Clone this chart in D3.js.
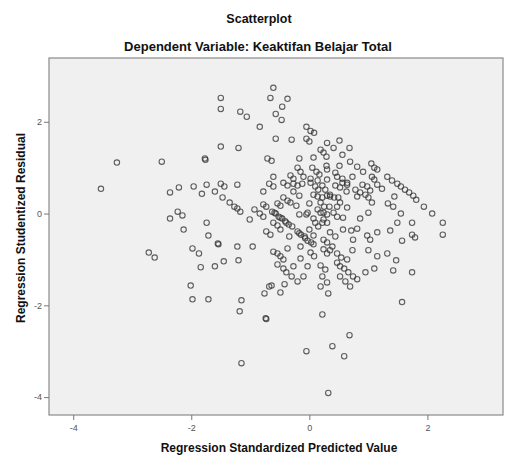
<!DOCTYPE html>
<html lang="en">
<head>
<meta charset="utf-8">
<title>Scatterplot</title>
<script src="https://cdn.jsdelivr.net/npm/d3@7"></script>
<style>
  body { margin: 0; background: #fff; }
  .title { font-family: "Liberation Sans", Arial, sans-serif; font-weight: bold; fill: #111; }
  .axis text { font-family: "Liberation Sans", Arial, sans-serif; font-size: 9px; fill: #555; }
  .axis line, .axis path { stroke: #777; }
</style>
</head>
<body>
<div id="chart"></div>
<script>
var w = 505, h = 461;
var plotLeft = 49, plotRight = 503, plotTop = 58, plotBottom = 415;

var chartTitle = "Scatterplot";
var chartSubtitle = "Dependent Variable: Keaktifan Belajar Total";
var xLabel = "Regression Standardized Predicted Value";
var yLabel = "Regression Studentized Residual";

var xTicks = [-4, -2, 0, 2];
var yTicks = [2, 0, -2, -4];

// Regression standardized predicted value
var predicted = [
  -3.53,-3.26,-2.72,-2.62,-2.50,-2.36,-2.21,-2.36,-2.23,-2.15,-2.13,-2.01,-1.98,-1.98,-1.87,-1.84,
  -1.96,-1.82,-1.77,-1.76,-1.74,-1.74,-1.71,-1.71,-1.60,-1.60,-1.55,-1.54,-1.50,-1.50,-1.50,-1.50,
  -1.44,-1.47,-1.45,-1.35,-1.27,-1.22,-1.17,-1.22,-1.20,-1.17,-1.06,-1.20,-1.22,-1.15,-1.18,-1.15,
  -1.01,-0.96,-0.93,-0.84,-0.84,-0.78,-0.78,-0.78,-0.73,-0.76,-0.68,-0.74,-0.73,-0.73,-0.66,
  -0.61,-0.66,-0.37,-0.46,-0.57,-0.47,-0.05,0.02,0.08,-0.57,-0.30,-0.05,0.00,0.30,0.19,0.24,
  -0.71,-0.64,-0.17,0.07,0.29,-0.61,-0.20,-0.15,0.05,0.12,0.17,0.30,-0.10,0.02,0.14,-0.32,
  -0.27,-0.44,-0.37,-0.20,0.22,0.30,
  0.41,0.51,0.68,0.56,0.69,0.81,0.91,0.51,1.05,1.10,1.15,0.29,0.44,0.47,0.56,0.64,0.73,0.52,
  0.90,0.98,1.03,0.95,1.00,1.06,0.78,0.86,0.81,0.44,0.56,0.64,1.06,1.10,1.15,1.23,1.32,1.40,
  1.49,1.55,1.62,1.69,1.76,1.81,1.94,2.08,2.26,2.26,1.44,1.33,1.42,1.55,1.74,1.74,1.79,1.49,
  1.37,1.15,0.98,1.00,0.86,0.71,0.63,0.49,0.47,0.64,0.57,0.35,0.34,0.30,0.24,0.22,0.35,0.44,
  0.52,0.41,0.47,
  -0.68,-0.61,-0.27,-0.27,-0.12,-0.17,-0.54,-0.49,-0.44,-0.37,-0.32,-0.22,-0.63,-0.57,-0.52,
  -0.46,-0.41,-0.35,-0.29,-0.59,-0.49,-0.39,-0.61,-0.54,-0.49,-0.34,-0.17,-0.03,-0.20,-0.14,
  -0.08,-0.03,0.03,-0.17,-0.07,0.00,0.14,0.19,0.10,0.15,0.24,0.30,0.07,0.24,0.30,0.00,0.02,
  0.10,0.15,0.07,0.14,0.22,0.30,0.27,0.35,0.42,0.19,0.25,0.07,-0.05,
  -0.61,-0.54,-0.49,-0.44,-0.37,-0.15,-0.15,0.02,0.08,0.24,0.30,-0.54,-0.44,-0.39,-0.30,-0.20,
  -0.03,-0.10,-0.64,-0.42,-0.49,-0.27,0.07,0.39,0.22,0.68,0.39,-0.05,0.59,0.32,0.47,0.52,0.59,
  0.66,0.52,0.61,0.69,0.74,0.81,0.19,0.27,0.22,0.30,0.19,0.32,0.35,0.47,0.54,0.64,0.73,0.95,
  1.10,1.42,1.74,1.15,1.32,1.47,1.00,1.57,1.57,0.74,0.81,0.57,1.03
];

// Regression studentized residual
var residual = [
  0.54,1.11,-0.85,-0.96,1.13,0.46,0.57,-0.11,0.04,-0.04,-0.35,-1.57,-1.87,-0.76,-0.87,-1.17,
  0.59,0.43,1.20,1.17,0.63,-0.20,-0.48,-1.87,0.48,-1.15,-0.65,-0.67,2.52,2.28,1.46,0.65,
  0.59,0.35,-1.04,0.24,0.15,0.11,0.04,0.63,1.43,2.22,2.11,-1.02,-0.72,-1.89,-2.13,-3.26,
  -0.13,-0.72,0.09,1.89,0.00,-0.07,0.48,0.20,0.15,-1.74,-1.59,-2.28,-2.30,-0.39,-0.46,
  2.74,2.52,2.50,2.33,2.17,2.04,1.89,1.80,1.76,1.63,1.61,1.63,1.57,1.54,1.39,1.33,
  1.20,1.15,1.20,1.22,1.24,0.80,1.00,0.91,1.00,0.91,0.85,0.96,0.80,0.76,0.72,0.83,
  0.76,0.67,0.61,0.61,0.61,0.74,
  1.43,1.59,1.43,1.28,1.13,1.02,0.91,1.04,1.09,1.00,0.96,1.04,0.89,0.80,0.76,0.67,0.80,0.57,
  0.63,0.59,0.50,0.41,0.35,0.24,0.52,0.46,0.37,0.61,0.67,0.63,0.80,0.74,0.63,0.54,0.80,0.72,
  0.65,0.59,0.52,0.46,0.39,0.30,0.15,0.00,-0.20,-0.46,0.37,0.22,0.15,0.00,-0.20,-0.46,-0.52,-0.20,
  -0.37,-0.41,-0.48,0.02,-0.11,-0.37,0.48,0.35,0.15,0.13,-0.09,0.37,0.15,-0.02,0.02,-0.20,-0.41,-0.50,
  0.24,0.02,-0.07,
  0.65,0.59,0.65,0.48,0.65,0.39,0.22,0.17,0.35,0.28,0.24,0.17,0.04,0.00,-0.07,
  -0.11,-0.17,-0.24,-0.28,0.02,-0.09,-0.20,-0.20,-0.26,-0.35,-0.50,-0.02,0.02,-0.39,-0.46,
  -0.50,-0.59,-0.63,-0.43,-0.54,-0.35,0.09,0.02,-0.20,-0.28,-0.13,-0.20,-0.48,-0.57,-0.63,0.22,0.67,
  0.59,0.52,0.41,0.37,0.35,0.39,0.52,0.41,0.35,0.24,0.15,-0.11,-0.02,
  -0.83,-0.87,-0.93,-1.00,-0.76,-0.72,-0.98,-0.85,-0.93,-0.78,-0.87,-1.11,-1.20,-1.28,-1.37,-1.48,
  -1.15,-1.37,-1.57,-1.54,-1.72,-1.15,-0.67,-0.72,-2.20,-2.65,-2.89,-3.00,-3.11,-3.91,-1.07,-1.15,-1.20,
  -1.28,-1.37,-1.48,-1.59,-1.37,-1.43,-1.13,-1.22,-1.37,-1.50,-1.59,-1.74,-0.80,-0.87,-0.96,-1.00,-0.80,-1.28,
  -1.20,-1.24,-1.28,-0.93,-0.87,-1.02,-0.80,-1.93,-0.59,-0.57,-0.33,-0.35,-0.57
];

var points = predicted.map(function(d, i) { return [d, residual[i]]; });

var xScale = d3.scaleLinear().domain([-4.41, 3.28]).range([plotLeft, plotRight]);
var yScale = d3.scaleLinear().domain([-4.39, 3.39]).range([plotBottom, plotTop]);

var svg = d3.select("#chart").append("svg")
  .attr("width", w)
  .attr("height", h);

svg.append("text").attr("class", "title")
  .attr("x", 259).attr("y", 23)
  .attr("text-anchor", "middle").style("font-size", "12.5px")
  .text(chartTitle);

svg.append("text").attr("class", "title")
  .attr("x", 258).attr("y", 51)
  .attr("text-anchor", "middle").style("font-size", "13px")
  .text(chartSubtitle);

// plot area
svg.append("rect")
  .attr("x", plotLeft).attr("y", plotTop)
  .attr("width", plotRight - plotLeft).attr("height", plotBottom - plotTop)
  .attr("fill", "#f0f0f0")
  .attr("stroke", "#8a8a8a")
  .attr("stroke-width", 1.2);

svg.append("g").attr("class", "axis")
  .attr("transform", "translate(0," + plotBottom + ")")
  .call(d3.axisBottom(xScale).tickValues(xTicks).tickFormat(function(d) { return String(d); })
    .tickSize(5).tickPadding(5).tickSizeOuter(0))
  .call(function(g) { g.select(".domain").remove(); });

svg.append("g").attr("class", "axis")
  .attr("transform", "translate(" + plotLeft + ",0)")
  .call(d3.axisLeft(yScale).tickValues(yTicks).tickFormat(function(d) { return String(d); })
    .tickSize(5).tickPadding(2).tickSizeOuter(0))
  .call(function(g) { g.select(".domain").remove(); });

svg.append("g")
  .selectAll("circle")
  .data(points)
  .enter()
  .append("circle")
  .attr("cx", function(d) { return xScale(d[0]); })
  .attr("cy", function(d) { return yScale(d[1]); })
  .attr("r", 2.7)
  .attr("fill", "none")
  .attr("stroke", "#3a3a3a")
  .attr("stroke-opacity", 0.8)
  .attr("stroke-width", 1.1);

svg.append("text").attr("class", "title")
  .attr("x", 279).attr("y", 452)
  .attr("text-anchor", "middle").style("font-size", "12px")
  .text(xLabel);

svg.append("text").attr("class", "title")
  .attr("transform", "translate(25,228) rotate(-90)")
  .attr("text-anchor", "middle").style("font-size", "12px")
  .text(yLabel);
</script>
</body>
</html>
